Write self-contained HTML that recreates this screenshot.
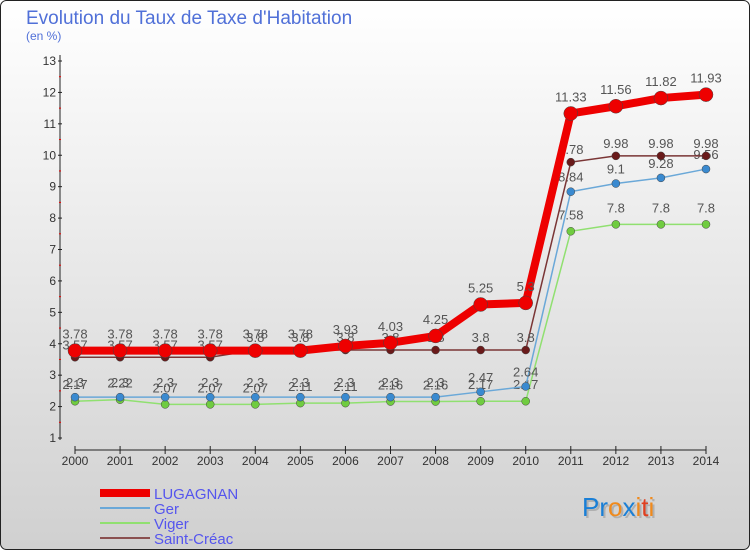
<!DOCTYPE html>
<html><head><meta charset="utf-8"><style>
body{margin:0;width:750px;height:550px;overflow:hidden;font-family:"Liberation Sans",sans-serif}
svg text{font-family:"Liberation Sans",sans-serif}
</style></head><body>
<svg id="c" width="750" height="550" xmlns="http://www.w3.org/2000/svg">
<defs><linearGradient id="bg" x1="0" y1="0" x2="0" y2="1"><stop offset="0" stop-color="#ffffff"/><stop offset="1" stop-color="#d0d0d0"/></linearGradient></defs>
<rect x="0.5" y="0.5" width="749" height="549" rx="6" fill="url(#bg)" stroke="#222"/>
<text x="26" y="24" font-size="19" fill="#5070d8">Evolution du Taux de Taxe d'Habitation</text>
<text x="26" y="40" font-size="12" fill="#5070d8">(en %)</text>
<g id="axes"></g><g id="series"></g><g id="legend"></g>
<text x="584" y="518" font-size="26" fill="#999" opacity="0.6">Proxiti</text>
<text x="582" y="516" font-size="26"><tspan fill="#1a7fd6">Pr</tspan><tspan fill="#f08a1c">o</tspan><tspan fill="#1a7fd6">x</tspan><tspan fill="#f08a1c">i</tspan><tspan fill="#e04020">t</tspan><tspan fill="#f08a1c">i</tspan></text>
</svg>
<script>
const years=[2000,2001,2002,2003,2004,2005,2006,2007,2008,2009,2010,2011,2012,2013,2014];
const lugagnan=[3.78,3.78,3.78,3.78,3.78,3.78,3.93,4.03,4.25,5.25,5.3,11.33,11.56,11.82,11.93];
const ger=[2.3,2.3,2.3,2.3,2.3,2.3,2.3,2.3,2.3,2.47,2.64,8.84,9.1,9.28,9.56];
const viger=[2.17,2.22,2.07,2.07,2.07,2.11,2.11,2.16,2.16,2.17,2.17,7.58,7.8,7.8,7.8];
const saintCreac=[3.57,3.57,3.57,3.57,3.8,3.8,3.8,3.8,3.8,3.8,3.8,9.78,9.98,9.98,9.98];
const yTicks=[1,2,3,4,5,6,7,8,9,10,11,12,13];
const NS="http://www.w3.org/2000/svg";
const x=i=>75+i*(706-75)/(years.length-1);
const y=v=>438-(v-1)*(438-61)/12;
function mk(t,a,p){const e=document.createElementNS(NS,t);for(const k in a)e.setAttribute(k,a[k]);p.appendChild(e);return e;}
const ax=document.getElementById('axes');
const yl=mk('line',{x1:60,y1:55,x2:60,y2:440,stroke:'#222'},ax);


yTicks.forEach(v=>{
 const t=mk('text',{x:56,y:y(v)+4,'font-size':12,'text-anchor':'end',fill:'#333'},ax);t.textContent=v;
 
 
 mk('line',{x1:58,y1:y(v),x2:62,y2:y(v),stroke:'#222'},ax);
 if(v<13)mk('line',{x1:59,y1:y(v+0.5),x2:61,y2:y(v+0.5),stroke:'#e00'},ax);
});
const xl=mk('line',{x1:75,y1:450,x2:706,y2:450,stroke:'#222'},ax);


years.forEach((yr,i)=>{
 mk('line',{x1:x(i),y1:446,x2:x(i),y2:454,stroke:'#222'},ax);
 const t=mk('text',{x:x(i),y:465,'font-size':12,'text-anchor':'middle',fill:'#333'},ax);t.textContent=yr;
 
 
});
const sg=document.getElementById('series');
const series=[
 {name:'viger',data:viger,c:'#90e070',dot:'#70cc40',w:1.5,r:4,dy:-12},
 {name:'ger',data:ger,c:'#6aa8d8',dot:'#3a8ad0',w:1.5,r:4,dy:-10},
 {name:'saint-creac',data:saintCreac,c:'#7a3535',dot:'#6a1a1a',w:1.5,r:4,dy:-8},
 {name:'lugagnan',data:lugagnan,c:'#ee0000',dot:'#ee0000',w:8,r:7,dy:-12}
];
series.forEach(s=>{
 const g=mk('g',{},sg);
 
 
 const p=mk('polyline',{points:s.data.map((v,i)=>x(i)+','+y(v)).join(' '),fill:'none',stroke:s.c,'stroke-width':s.w},g);
 
 
 s.data.forEach((v,i)=>{
  const c=mk('circle',{cx:x(i),cy:y(v),r:s.r,fill:s.dot,stroke:'#444','stroke-width':0.5},g);
  
  
  const t=mk('text',{x:x(i),y:y(v)+s.dy,'font-size':13,'text-anchor':'middle',fill:'#555'},g);
  t.textContent=String(v);
  
  
 });
});
const lg=document.getElementById('legend');
[['LUGAGNAN','#ee0000',8],['Ger','#6aa8d8',2],['Viger','#90e070',2],['Saint-Créac','#8a5050',2]].forEach((e,i)=>{
 const yy=493+i*15;
 const g=mk('g',{},lg);
 
 
 mk('line',{x1:100,y1:yy,x2:150,y2:yy,stroke:e[1],'stroke-width':e[2]},g);
 const t=mk('text',{x:154,y:yy+6,'font-size':15,fill:'#5555ee'},g);t.textContent=e[0];
});
</script>
</body></html>
